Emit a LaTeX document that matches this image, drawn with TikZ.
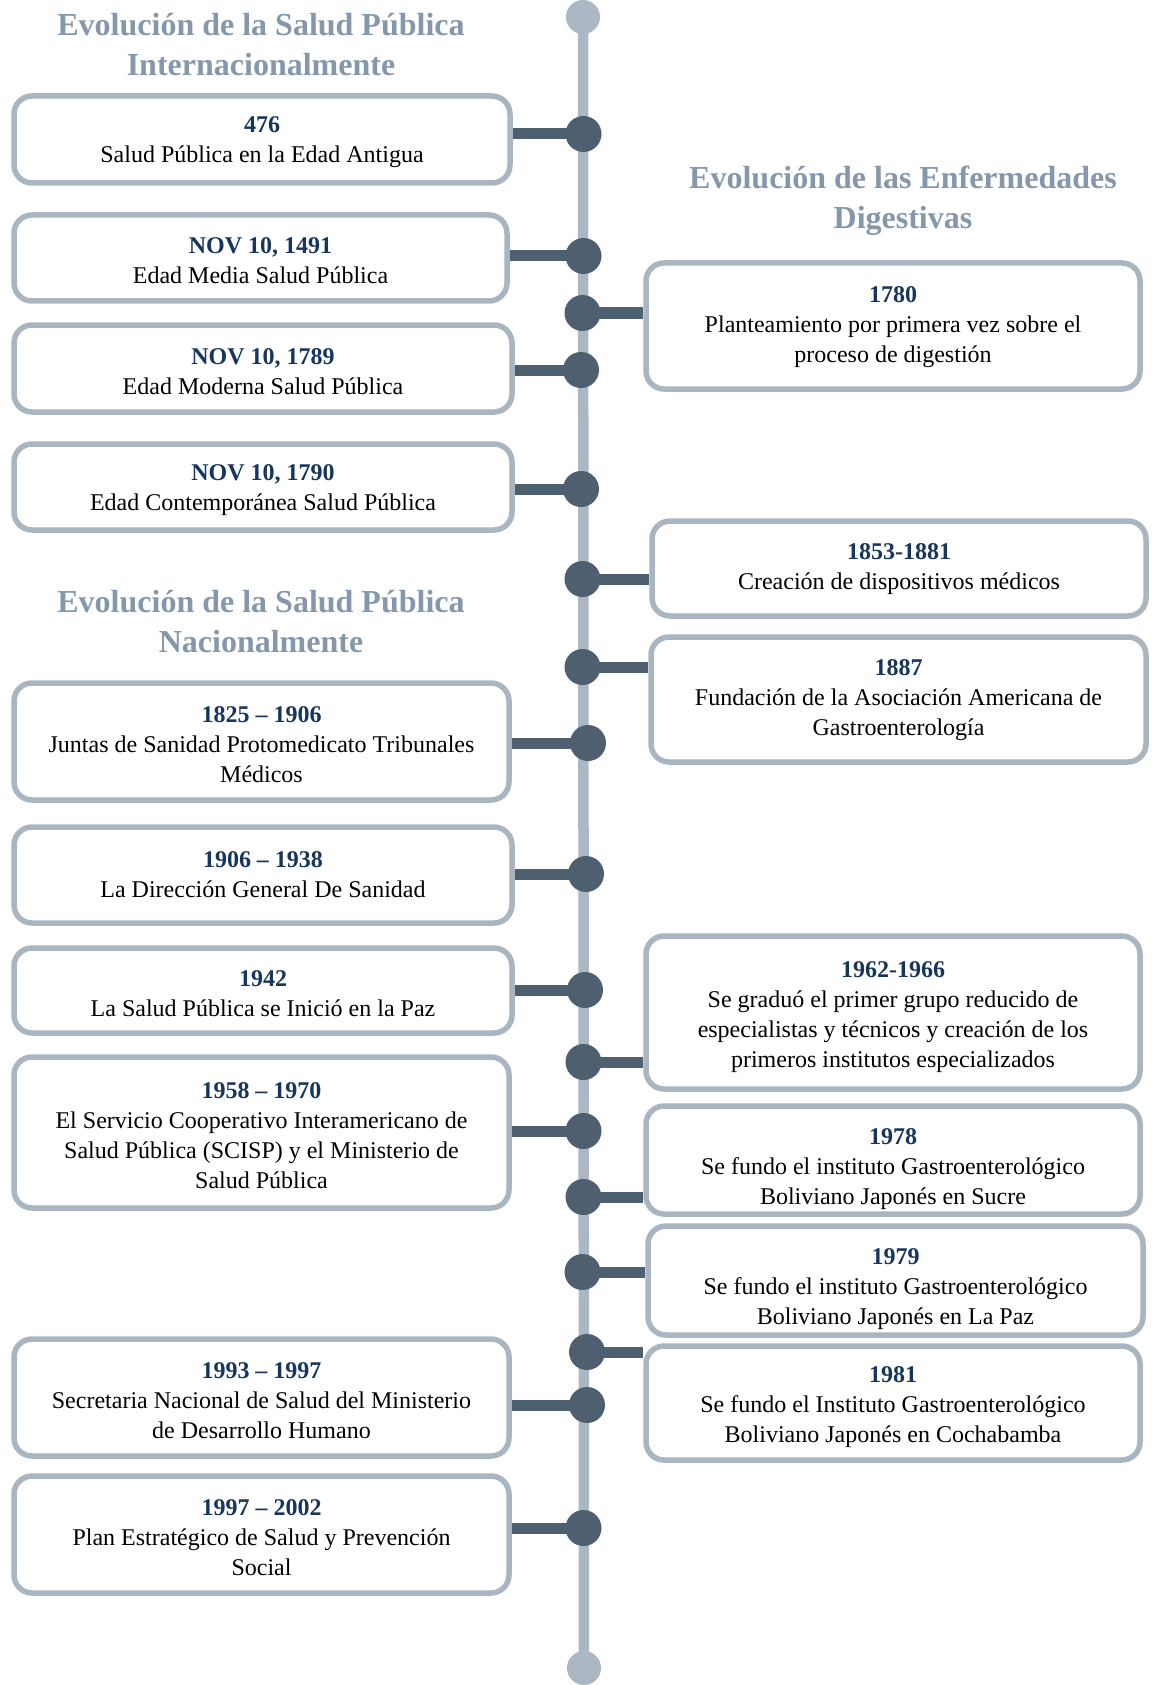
\documentclass[tikz,border=0pt]{standalone}
\usepackage{fontspec}
\setmainfont{Liberation Serif}
\definecolor{titlecol}{RGB}{133,151,171}
\definecolor{spinecol}{RGB}{171,184,195}
\definecolor{boxcol}{RGB}{169,182,193}
\definecolor{dotcol}{RGB}{78,95,111}
\definecolor{yearcol}{RGB}{23,54,93}
\newcommand\yeartxt[2][22]{\rule{0pt}{#1pt}{\bfseries\color{yearcol}#2}}
\pgfdeclarelayer{bg}
\pgfsetlayers{bg,main}
\begin{document}
\begin{tikzpicture}[x=1pt,y=-1pt,
  evbox/.style={draw=boxcol, line width=5.5pt, rounded corners=18pt, fill=white,
    align=center, inner sep=0pt, font=\fontsize{24}{30}\selectfont},
  titletxt/.style={align=center, text=titlecol, inner sep=0pt,
    font=\fontsize{32}{40}\selectfont\bfseries},
  dotnode/.style={circle, fill=dotcol, minimum size=36pt, inner sep=0pt},
  endcap/.style={circle, fill=spinecol, minimum size=34pt, inner sep=0pt},
  spine/.style={draw=spinecol, line width=10.5pt},
  conn/.style={draw=dotcol, line width=11pt}]
\useasboundingbox (0,0) rectangle (1151,1685);

% titles
\node[titletxt] (t1) at (261,45) {Evolución de la Salud Pública\\Internacionalmente};
\node[titletxt] (t2) at (903,201) {Evolución de las Enfermedades\\Digestivas};
\node[titletxt] (t3) at (261,622) {Evolución de la Salud Pública\\Nacionalmente};

% spine end caps
\node[endcap] (top) at (583,17) {};
\node[endcap] (bot) at (584,1668) {};

% left boxes
\node[evbox, minimum width=496pt, minimum height=87pt] (b476) at (262,139.5)
  {\yeartxt{476}\\Salud Pública en la Edad Antigua};
\node[evbox, minimum width=493pt, minimum height=86pt] (b1491) at (260.5,258)
  {\yeartxt{NOV 10, 1491}\\Edad Media Salud Pública};
\node[evbox, minimum width=498pt, minimum height=87pt] (b1789) at (263,368.5)
  {\yeartxt{NOV 10, 1789}\\Edad Moderna Salud Pública};
\node[evbox, minimum width=498pt, minimum height=86pt] (b1790) at (263,487)
  {\yeartxt{NOV 10, 1790}\\Edad Contemporánea Salud Pública};
\node[evbox, minimum width=495pt, minimum height=117pt] (b1825) at (261.5,741.5)
  {\yeartxt{1825 – 1906}\\Juntas de Sanidad Protomedicato Tribunales\\Médicos};
\node[evbox, minimum width=498pt, minimum height=96pt] (b1906) at (263,875)
  {\yeartxt[14]{1906 – 1938}\\La Dirección General De Sanidad};
\node[evbox, minimum width=498pt, minimum height=85pt] (b1942) at (263,990.5)
  {\yeartxt{1942}\\La Salud Pública se Inició en la Paz};
\node[evbox, minimum width=495pt, minimum height=151pt] (b1958) at (261.5,1132.5)
  {\yeartxt{1958 – 1970}\\El Servicio Cooperativo Interamericano de\\Salud Pública (SCISP) y el Ministerio de\\Salud Pública};
\node[evbox, minimum width=495pt, minimum height=117pt] (b1993) at (261.5,1397.5)
  {\yeartxt{1993 – 1997}\\Secretaria Nacional de Salud del Ministerio\\de Desarrollo Humano};
\node[evbox, minimum width=495pt, minimum height=117pt] (b1997) at (261.5,1534.5)
  {\yeartxt{1997 – 2002}\\Plan Estratégico de Salud y Prevención\\Social};

% right boxes
\node[evbox, minimum width=494pt, minimum height=126pt] (b1780) at (893,326)
  {\yeartxt[18]{1780}\\Planteamiento por primera vez sobre el\\proceso de digestión};
\node[evbox, minimum width=494pt, minimum height=95pt] (b1853) at (899,568.5)
  {\yeartxt[18]{1853-1881}\\Creación de dispositivos médicos};
\node[evbox, minimum width=495pt, minimum height=125pt] (b1887) at (898.5,699.5)
  {\yeartxt[18]{1887}\\Fundación de la Asociación Americana de\\Gastroenterología};
\node[evbox, minimum width=494pt, minimum height=153pt] (b1962) at (893,1012.5)
  {\yeartxt[26]{1962-1966}\\Se graduó el primer grupo reducido de\\especialistas y técnicos y creación de los\\primeros institutos especializados};
\node[evbox, minimum width=494pt, minimum height=108pt] (b1978) at (893,1160)
  {\yeartxt[34]{1978}\\Se fundo el instituto Gastroenterológico\\Boliviano Japonés en Sucre};
\node[evbox, minimum width=495pt, minimum height=109pt] (b1979) at (895.5,1280.5)
  {\yeartxt[34]{1979}\\Se fundo el instituto Gastroenterológico\\Boliviano Japonés en La Paz};
\node[evbox, minimum width=494pt, minimum height=114pt] (b1981) at (893,1403)
  {\yeartxt[24]{1981}\\Se fundo el Instituto Gastroenterológico\\Boliviano Japonés en Cochabamba};

% dots
\node[dotnode] (d476) at (583.5,134) {};
\node[dotnode] (d1491) at (583.5,256) {};
\node[dotnode] (d1780) at (582.5,313) {};
\node[dotnode] (d1789) at (581,370) {};
\node[dotnode] (d1790) at (581,489) {};
\node[dotnode] (d1853) at (582.5,579) {};
\node[dotnode] (d1887) at (582.5,667) {};
\node[dotnode] (d1825) at (588,743) {};
\node[dotnode] (d1906) at (586,874) {};
\node[dotnode] (d1942) at (585,990) {};
\node[dotnode] (d1962) at (583.5,1062) {};
\node[dotnode] (d1958) at (583.5,1131) {};
\node[dotnode] (d1978) at (583.5,1197) {};
\node[dotnode] (d1979) at (582.5,1272) {};
\node[dotnode] (d1981) at (587,1352) {};
\node[dotnode] (d1993) at (587,1405) {};
\node[dotnode] (d1997) at (583.5,1528) {};

\begin{pgfonlayer}{bg}
  \fill[white] (0,0) rectangle (1151,1685);
  \draw[spine] (top.center) -- (bot.center);
  \foreach \n in {476,1491,1789,1790,1825,1906,1942,1958,1993,1997}
    \draw[conn] (d\n.center) -- (d\n.center -| b\n.east);
  \foreach \n in {1780,1853,1887,1962,1978,1979,1981}
    \draw[conn] (d\n.center) -- (d\n.center -| b\n.west);
\end{pgfonlayer}
\end{tikzpicture}
\end{document}
